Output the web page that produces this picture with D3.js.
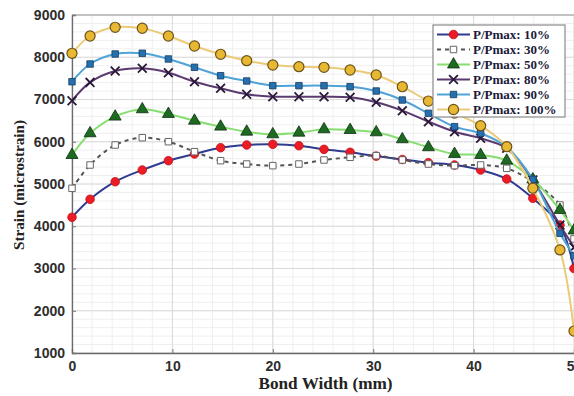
<!DOCTYPE html>
<html>
<head>
<meta charset="utf-8">
<script src="https://cdn.jsdelivr.net/npm/d3@7"></script>
<style>
  body { margin: 0; background: #fff; }
  svg { display: block; }
</style>
</head>
<body>
<div id="chart-area"></div>
<script>
// Bond width positions (mm)
const bondWidth = [0, 1.8, 4.3, 7.0, 9.6, 12.2, 14.8, 17.4, 20.0, 22.6, 25.1,
    27.7, 30.3, 32.9, 35.5, 38.1, 40.7, 43.3, 45.9, 48.6, 50]

// Strain (microstrain) per load level
const p10 = [4212, 4638, 5054, 5331, 5552, 5710, 5859, 5923, 5939, 5907, 5820,
    5750, 5660, 5580, 5504, 5450, 5331, 5118, 4661, 4030, 3000]
const p30 = [4898, 5450, 5923, 6096, 6001, 5765, 5552, 5473, 5434, 5473, 5568,
    5632, 5670, 5568, 5473, 5434, 5450, 5371, 5050, 4503, 3700]
const p50 = [5686, 6200, 6594, 6768, 6657, 6498, 6357, 6238, 6176, 6214, 6295,
    6278, 6223, 6058, 5869, 5710, 5686, 5552, 5110, 4385, 3900]
const p80 = [6972, 7405, 7675, 7738, 7635, 7421, 7265, 7123, 7067, 7067, 7067,
    7052, 6934, 6736, 6475, 6238, 6081, 5845, 5095, 4030, 3500]
const p90 = [7421, 7840, 8077, 8094, 7959, 7762, 7563, 7438, 7327, 7327, 7327,
    7303, 7201, 6988, 6673, 6357, 6200, 5869, 5110, 3833, 3300]
const p100 = [8094, 8503, 8709, 8686, 8503, 8266, 8070, 7919, 7817, 7777, 7762,
    7698, 7580, 7303, 6964, 6680, 6380, 5883, 4900, 3440, 1520]

const seriesNames = ["P/Pmax: 10%", "P/Pmax: 30%", "P/Pmax: 50%",
    "P/Pmax: 80%", "P/Pmax: 90%", "P/Pmax: 100%"]
const xTicks = [0, 10, 20, 30, 40, 50]
const yTicks = [1000, 2000, 3000, 4000, 5000, 6000, 7000, 8000, 9000]

// styles per series
const styles = [
    {line: "#2e3b8f", dash: null, sym: d3.symbolCircle, size: 58, fill: "#ec1c24", stroke: "#c01018", sw: 0.8},
    {line: "#555555", dash: "4,4", sym: d3.symbolSquare, size: 42, fill: "#ffffff", stroke: "#666666", sw: 1},
    {line: "#86dd70", dash: null, sym: d3.symbolTriangle, size: 62, fill: "#1f6a22", stroke: "#0e3010", sw: 0.8},
    {line: "#5b3a70", dash: null, sym: d3.symbolTimes, size: 52, fill: "none", stroke: "#2a1838", sw: 1.8},
    {line: "#4fa3d6", dash: null, sym: d3.symbolSquare, size: 42, fill: "#2670b0", stroke: "#163c60", sw: 0.8},
    {line: "#ebcb78", dash: null, sym: d3.symbolCircle, size: 80, fill: "#e9b833", stroke: "#6b5218", sw: 1.2}
]

const series = [p10, p30, p50, p80, p90, p100].map((vals, i) => ({
    name: seriesNames[i],
    style: styles[i],
    values: vals.map((v, j) => ({x: bondWidth[j], y: v}))
}))

const W = 574, H = 396
const margin = {left: 72, right: 574, top: 15, bottom: 353}

const svg = d3.select("#chart-area").append("svg")
    .attr("width", W)
    .attr("height", H)

const x = d3.scaleLinear().domain([0, 50]).range([margin.left, margin.right])
const y = d3.scaleLinear().domain([1000, 9000]).range([margin.bottom, margin.top])

// Minor grid
const grid = svg.append("g")
grid.selectAll(".vminor").data(d3.range(0, 50.1, 2))
    .enter().append("line")
    .attr("x1", d => x(d)).attr("x2", d => x(d))
    .attr("y1", margin.top).attr("y2", margin.bottom)
    .attr("stroke", "#efefef").attr("stroke-width", 1)
grid.selectAll(".hminor").data(d3.range(1000, 9001, 200))
    .enter().append("line")
    .attr("x1", margin.left).attr("x2", margin.right)
    .attr("y1", d => y(d)).attr("y2", d => y(d))
    .attr("stroke", "#efefef").attr("stroke-width", 1)
// Major grid
grid.selectAll(".vmajor").data(xTicks)
    .enter().append("line")
    .attr("x1", d => x(d)).attr("x2", d => x(d))
    .attr("y1", margin.top).attr("y2", margin.bottom)
    .attr("stroke", "#dadada").attr("stroke-width", 1)
grid.selectAll(".hmajor").data(yTicks)
    .enter().append("line")
    .attr("x1", margin.left).attr("x2", margin.right)
    .attr("y1", d => y(d)).attr("y2", d => y(d))
    .attr("stroke", "#dadada").attr("stroke-width", 1)

// Top frame line
svg.append("line")
    .attr("x1", margin.left).attr("x2", margin.right)
    .attr("y1", margin.top).attr("y2", margin.top)
    .attr("stroke", "#9a9a9a")

// Axes
const xAxisCall = d3.axisBottom(x).tickValues(xTicks).tickSize(-4).tickPadding(10)
    .tickFormat(d3.format("d"))
const yAxisCall = d3.axisLeft(y).tickValues(yTicks).tickSize(-4).tickPadding(7)
    .tickFormat(d3.format("d"))

const xAxis = svg.append("g")
    .attr("transform", `translate(0, ${margin.bottom})`)
    .call(xAxisCall)
const yAxis = svg.append("g")
    .attr("transform", `translate(${margin.left}, 0)`)
    .call(yAxisCall)

;[xAxis, yAxis].forEach(a => {
    a.select(".domain").attr("stroke", "#6a6a6a").attr("stroke-width", 1.3)
    a.selectAll(".tick line").attr("stroke", "#777")
    a.selectAll(".tick text")
        .attr("fill", "#2e2e2e")
        .attr("font-family", "Liberation Sans, Arial, sans-serif")
        .attr("font-weight", "bold")
        .attr("font-size", "14px")
})
xAxis.selectAll(".tick text").attr("dy", "0.6em")

// Axis titles
svg.append("text")
    .attr("x", (margin.left + 575) / 2 + 2)
    .attr("y", 389)
    .attr("text-anchor", "middle")
    .attr("font-family", "Liberation Serif, Times New Roman, serif")
    .attr("font-weight", "bold")
    .attr("font-size", "16px")
    .attr("fill", "#222")
    .attr("textLength", 134)
    .attr("lengthAdjust", "spacingAndGlyphs")
    .text("Bond Width (mm)")

svg.append("text")
    .attr("transform", "translate(24, 185) rotate(-90)")
    .attr("text-anchor", "middle")
    .attr("font-family", "Liberation Serif, Times New Roman, serif")
    .attr("font-weight", "bold")
    .attr("font-size", "15px")
    .attr("fill", "#222")
    .attr("textLength", 130)
    .attr("lengthAdjust", "spacingAndGlyphs")
    .text("Strain (microstrain)")

// Lines and markers
const line = d3.line()
    .x(d => x(d.x))
    .y(d => y(d.y))
    .curve(d3.curveCatmullRom.alpha(0.5))

const plot = svg.append("g")

series.forEach(s => {
    const g = plot.append("g")
    g.append("path")
        .attr("d", line(s.values))
        .attr("fill", "none")
        .attr("stroke", s.style.line)
        .attr("stroke-width", 2)
        .attr("stroke-dasharray", s.style.dash)
    g.selectAll("path.mark").data(s.values)
        .enter().append("path")
        .attr("class", "mark")
        .attr("transform", d => `translate(${x(d.x)},${y(d.y)})`)
        .attr("d", d3.symbol().type(s.style.sym).size(s.style.size))
        .attr("fill", s.style.fill)
        .attr("stroke", s.style.stroke)
        .attr("stroke-width", s.style.sw)
})

// Legend
const legend = svg.append("g").attr("transform", "translate(433, 25)")
legend.append("rect")
    .attr("width", 132).attr("height", 92)
    .attr("fill", "#fff")
    .attr("stroke", "#8a8a8a")
    .attr("stroke-width", 1.2)

series.forEach((s, i) => {
    const row = legend.append("g").attr("transform", `translate(0, ${9.5 + i * 15})`)
    row.append("line")
        .attr("x1", 4).attr("x2", 37)
        .attr("stroke", s.style.line)
        .attr("stroke-width", 2)
        .attr("stroke-dasharray", s.style.dash)
    row.append("path")
        .attr("transform", "translate(20.5,0)")
        .attr("d", d3.symbol().type(s.style.sym).size(s.style.size))
        .attr("fill", s.style.fill)
        .attr("stroke", s.style.stroke)
        .attr("stroke-width", s.style.sw)
    row.append("text")
        .attr("x", 40)
        .attr("dy", "0.35em")
        .attr("font-family", "Liberation Serif, Times New Roman, serif")
        .attr("font-weight", "bold")
        .attr("font-size", "13px")
        .attr("fill", "#1a1a3a")
        .text(s.name)
})
</script>
</body>
</html>
